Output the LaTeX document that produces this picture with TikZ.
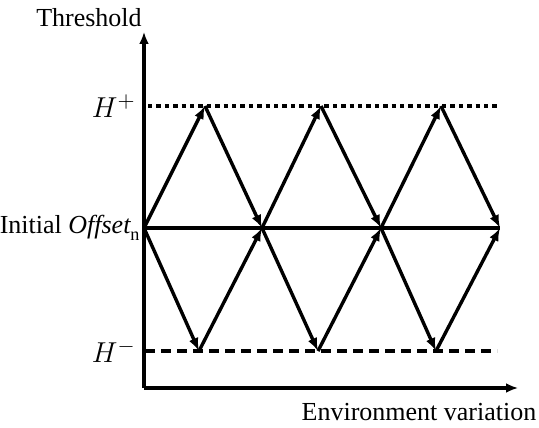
\documentclass[tikz,border=0pt]{standalone}
\usepackage{fontspec}
\setmainfont{Liberation Serif}
\usetikzlibrary{positioning,arrows.meta}

\begin{document}
\begin{tikzpicture}[
      x=0.5pt, y=0.5pt,
      font=\fontsize{13}{15}\selectfont,
      axis/.style={line width=1.6pt,-{Latex[length=6pt,width=5pt]}},
      swing/.style={line width=1.7pt,-{Latex[length=6.5pt,width=5pt]}},
      base/.style={line width=2.3pt},
      upper/.style={line width=2.3pt,dash pattern=on 2.2pt off 2pt},
      lower/.style={line width=2.3pt,dash pattern=on 5pt off 3pt},
      lbl/.style={inner sep=1pt},
      level/.style={inner sep=1pt,font=\fontsize{15}{17}\selectfont}]
    \useasboundingbox (-144,-39) rectangle (395,388);
    % axes
    \coordinate (orig) at (0,0);
    \coordinate (ytop) at (0,356);
    \coordinate (xend) at (374,0);
    \draw[axis] (orig) -- (ytop);
    \draw[axis] (orig) -- (xend);
    \node[lbl] (ylab) at (-55,370) {Threshold};
    \node[lbl] (xlab) at (275,-24) {Environment variation};
    % threshold levels
    \coordinate (hpa) at (4,282);
    \coordinate (hpb) at (353,282);
    \coordinate (hma) at (1,37);
    \coordinate (hmb) at (353,37);
    \coordinate (c0) at (0,160);
    \coordinate (c1) at (118,160);
    \coordinate (c2) at (237,160);
    \coordinate (c3) at (356,160);
    \draw[upper] (hpa) -- (hpb);
    \draw[lower] (hma) -- (hmb);
    \draw[base] (c0) -- (c3);
    \node[level,anchor=east] (hp) at (-6,282) {$H^{+}$};
    \node[level,anchor=east] (hm) at (-6,37) {$H^{-}$};
    \node[lbl,anchor=east] (init) at (-1,160) {Initial $\mathit{Offset}_{\mathrm{n}}$};
    % peaks and troughs
    \coordinate (p1) at (61,282);
    \coordinate (p2) at (177,282);
    \coordinate (p3) at (297,282);
    \coordinate (t1) at (55,37);
    \coordinate (t2) at (174,37);
    \coordinate (t3) at (292,37);
    \draw[swing] (c0) -- (p1);
    \draw[swing] (p1) -- (c1);
    \draw[swing] (c0) -- (t1);
    \draw[swing] (t1) -- (c1);
    \draw[swing] (c1) -- (p2);
    \draw[swing] (p2) -- (c2);
    \draw[swing] (c1) -- (t2);
    \draw[swing] (t2) -- (c2);
    \draw[swing] (c2) -- (p3);
    \draw[swing] (p3) -- (c3);
    \draw[swing] (c2) -- (t3);
    \draw[swing] (t3) -- (c3);
  \end{tikzpicture}
\end{document}
